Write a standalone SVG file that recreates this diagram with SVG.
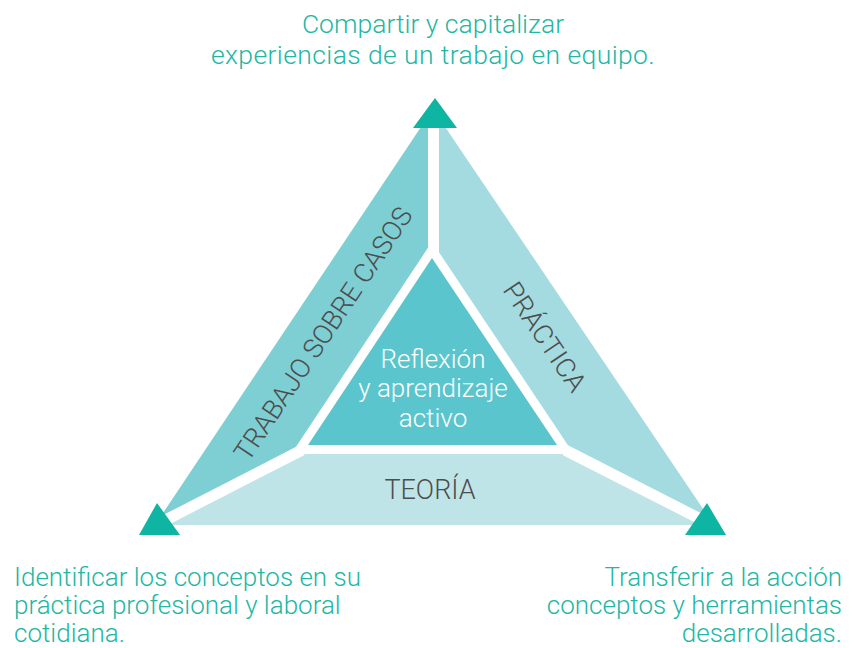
<svg xmlns="http://www.w3.org/2000/svg" width="857" height="648" viewBox="0 0 857 648">
<style>
.cap{font-family:Roboto,"Liberation Sans",sans-serif;font-weight:300;fill:#22b7a4;font-size:26px}
.lbl{font-family:Roboto,"Liberation Sans",sans-serif;font-weight:300;fill:#4d4d4d;font-size:27px}
.ctr{font-family:Roboto,"Liberation Sans",sans-serif;font-weight:300;fill:#ffffff;font-size:26px}
.mk{fill:#0db5a2}
.gap{stroke:#ffffff;stroke-width:11;fill:none}
</style>
<rect width="857" height="648" fill="#ffffff"/>
<g id="casos">
<polygon points="433,109 155,525 302,450 433,250" fill="#7ecfd4"/>
<text class="lbl" transform="translate(331,339) rotate(-56.3)" text-anchor="middle">TRABAJO SOBRE CASOS</text>
</g>
<g id="practica">
<polygon points="433,109 433,250 565,450 714,525" fill="#a3dbe0"/>
<text class="lbl" transform="translate(537,342) rotate(56)" text-anchor="middle">PRÁCTICA</text>
</g>
<g id="teoria">
<polygon points="155,525 714,525 565,450 302,450" fill="#bfe4e7"/>
<text class="lbl" x="430" y="499" text-anchor="middle">TEORÍA</text>
</g>
<g id="connectors">
<line class="gap" x1="433.5" y1="100" x2="433.5" y2="252"/>
<line class="gap" x1="302" y1="450" x2="150" y2="528"/>
<line class="gap" x1="565" y1="450" x2="718" y2="528"/>
</g>
<g id="reflexion">
<polygon points="432,258 308,445 557,445" fill="#ffffff" stroke="#ffffff" stroke-width="18" stroke-linejoin="miter"/>
<polygon points="432,258 308,445 557,445" fill="#5bc5cd"/>
<text class="ctr" text-anchor="middle"><tspan x="433" y="368">Reflexión</tspan><tspan x="433" y="397">y aprendizaje</tspan><tspan x="433" y="427">activo</tspan></text>
</g>
<g id="top">
<polygon class="mk" points="435,98 413,128 457,128"/>
<text class="cap" text-anchor="middle" style="font-size:26.5px"><tspan x="433" y="33">Compartir y capitalizar</tspan><tspan x="433" y="64" style="letter-spacing:0.4px">experiencias de un trabajo en equipo.</tspan></text>
</g>
<g id="left">
<polygon class="mk" points="157,503 139,535 180,535"/>
<text class="cap"><tspan x="14" y="586">Identificar los conceptos en su</tspan><tspan x="14" y="614">práctica profesional y laboral</tspan><tspan x="14" y="642">cotidiana.</tspan></text>
</g>
<g id="right">
<polygon class="mk" points="707,503 685,535 726,535"/>
<text class="cap" text-anchor="end"><tspan x="842" y="586">Transferir a la acción</tspan><tspan x="842" y="614">conceptos y herramientas</tspan><tspan x="842" y="642">desarrolladas.</tspan></text>
</g>
</svg>
